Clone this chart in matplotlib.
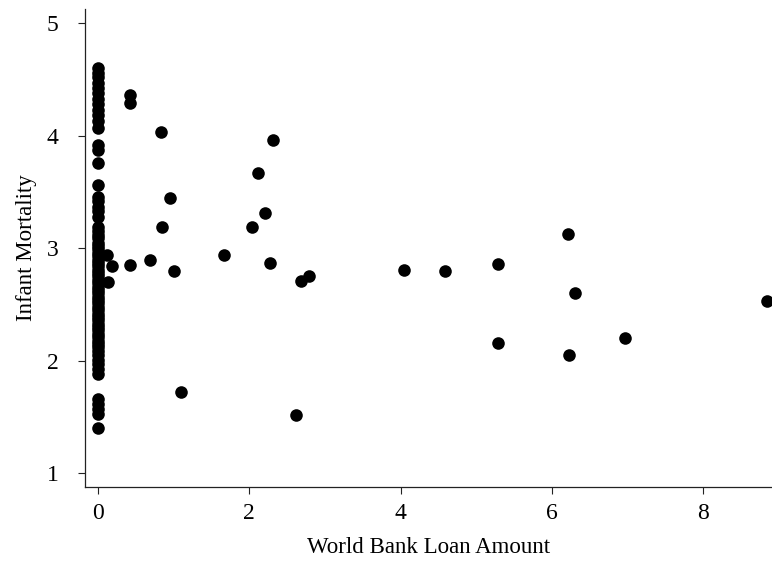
import matplotlib.pyplot as plt

# countries with no loan (x = 0)
zero_loan_mortality = [
    4.60, 4.56, 4.52, 4.47, 4.42, 4.38, 4.33, 4.28, 4.23, 4.18, 4.13, 4.07,
    3.92, 3.87, 3.76, 3.56,
    3.46, 3.42, 3.37, 3.33, 3.28,
    3.19, 3.15, 3.12, 3.09, 3.05, 3.02, 2.99, 2.96, 2.93, 2.90, 2.87, 2.84,
    2.81, 2.78, 2.75, 2.72, 2.69, 2.66, 2.63, 2.60, 2.57, 2.54, 2.51, 2.48,
    2.45, 2.42, 2.39, 2.36, 2.33, 2.30, 2.27, 2.24, 2.21, 2.18, 2.15, 2.12,
    2.09, 2.05, 2.01, 1.97, 1.93, 1.88,
    1.66, 1.62, 1.57, 1.53, 1.40,
]

# countries with a loan
loan_amount = [
    0.12, 0.19, 0.13, 0.42, 0.42, 0.42, 0.84, 2.31, 2.11, 0.95, 2.21, 0.85,
    2.03, 0.69, 1.00, 1.67, 2.28, 2.69, 2.79, 4.05, 4.59, 5.28, 6.21, 6.30,
    8.84, 5.28, 6.23, 6.97, 1.10, 2.62,
]
loan_mortality = [
    2.94, 2.84, 2.70, 2.85, 4.36, 4.29, 4.03, 3.96, 3.67, 3.45, 3.31, 3.19,
    3.19, 2.90, 2.80, 2.94, 2.87, 2.71, 2.75, 2.81, 2.80, 2.86, 3.13, 2.60,
    2.53, 2.16, 2.05, 2.20, 1.72, 1.52,
]

plt.rcParams["font.family"] = ["Liberation Serif", "DejaVu Serif"]

fig = plt.figure(figsize=(7.72, 5.62), dpi=100)
ax = fig.add_axes([0.110, 0.134, 0.890, 0.8495])

ax.scatter([0] * len(zero_loan_mortality), zero_loan_mortality, s=82, color="black", linewidths=0)
ax.scatter(loan_amount, loan_mortality, s=82, color="black", linewidths=0)

ax.set_xlim(-0.171, 8.906)
ax.set_ylim(0.881, 5.124)
ax.set_xticks([0, 2, 4, 6, 8])
ax.set_yticks([1, 2, 3, 4, 5])

for side in ["top", "right"]:
    ax.spines[side].set_visible(False)
for side in ["left", "bottom"]:
    ax.spines[side].set_linewidth(0.9)
    ax.spines[side].set_color("#222222")

ax.tick_params(direction="out", length=5, width=0.8, colors="#222222", labelsize=17, labelcolor="black")
ax.tick_params(axis="x", pad=7)
ax.tick_params(axis="y", pad=14)

ax.set_xlabel("World Bank Loan Amount", fontsize=16.5, labelpad=9)
ax.set_ylabel("Infant Mortality", fontsize=16.5, labelpad=7)

fig.savefig("out.png", dpi=100)
